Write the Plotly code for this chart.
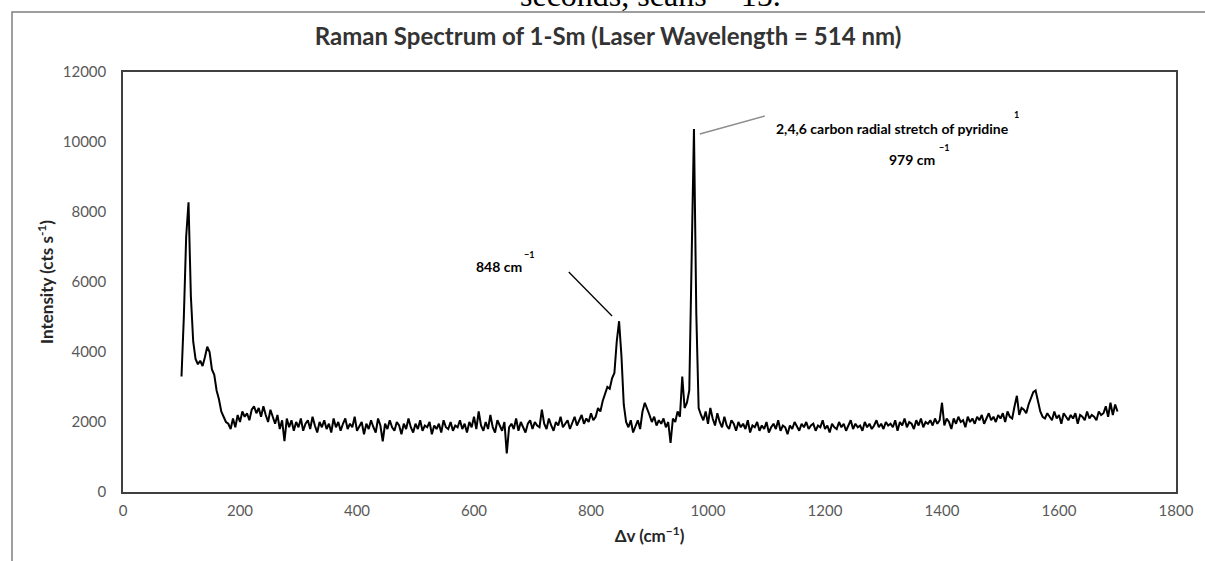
import plotly.graph_objects as go

# ---- data ----
raman_shift_start = 100
raman_shift_step = 4
intensity = [
    3300, 5000, 7300, 8280, 5600, 4300, 3800, 3650, 3750, 3600,
    3850, 4150, 4000, 3500, 3350, 2900, 2650, 2300, 2150, 2000,
    1950, 1800, 2100, 1850, 2200, 2000, 2300, 2150, 2250, 2050,
    2350, 2450, 2250, 2400, 2150, 2450, 2200, 2000, 2350, 2150,
    1950, 2200, 1800, 2050, 1450, 2100, 1850, 2050, 1750, 2000,
    1850, 2100, 1750, 1950, 2050, 1800, 2150, 1900, 1700, 2000,
    1850, 2050, 1800, 1950, 1700, 2100, 1850, 2000, 1750, 1950,
    2100, 1800, 1950, 1850, 2150, 1750, 1900, 2000, 1650, 1950,
    1800, 2050, 1850, 1700, 2100, 1900, 1450, 1950, 1800, 2050,
    1850, 1750, 2000, 1900, 1650, 1950, 1800, 2100, 1850, 1700,
    1950, 1800, 2050, 1750, 1900, 1850, 2000, 1650, 1900, 1800,
    1950, 1700, 2050, 1850, 1800, 2000, 1750, 1900, 1850, 2050,
    1800, 1950, 1700, 2000, 1850, 2150, 1800, 2300, 1900, 1750,
    2000, 1800, 2200, 1850, 1700, 2050, 1900, 1750, 2000, 1100,
    1850, 1950, 1800, 2100, 1750, 2000, 1850, 1700, 1950, 2050,
    1800, 2000, 1900, 1850, 2350, 1950, 1800, 2100, 1900, 1750,
    2000, 1900, 2150, 1850, 1950, 2050, 1800, 2000, 2150, 1900,
    2050, 2200, 1950, 2100, 2000, 2250, 2050, 2150, 2400, 2300,
    2600, 2800, 3000, 2950, 3250, 3400, 4300, 4880, 3900, 2500,
    2000, 1850, 2050, 1700, 1900, 2050, 1800, 2300, 2550, 2400,
    2200, 2000, 2150, 1900, 2050, 1950, 2100, 1850, 2000, 1400,
    2100, 2000, 2300, 2150, 3300, 2400, 2550, 2900, 6600, 10370,
    5100, 2400, 2200, 2050, 2300, 1950, 2400, 2100, 1900, 2250,
    2000, 1850, 2150, 1900, 1800, 2050, 1950, 1750, 2000, 1850,
    1950, 1800, 2050, 1700, 1900, 1850, 2000, 1750, 1900, 1800,
    2000, 1700, 1850, 1950, 1800, 2050, 1750, 1900, 1850, 1650,
    1900, 1800, 2000, 1850, 1750, 1950, 1850, 2000, 1800, 1900,
    1950, 1750, 1900, 1850, 2050, 1800, 1900, 1700, 1950, 1850,
    1800, 2000, 1850, 1950, 1750, 1900, 2050, 1800, 1950, 1850,
    1900, 1750, 2000, 1850, 1950, 1800, 1900, 2050, 1850, 1950,
    1800, 2000, 1900, 1950, 1850, 2050, 1750, 2000, 1900, 2100,
    1850, 2000, 1950, 1800, 2050, 1900, 2100, 1850, 2000, 1950,
    2050, 1900, 2100, 1950, 2050, 2550, 1900, 2100, 2000, 1800,
    2100, 1950, 2150, 2000, 2050, 1850, 2150, 2000, 2100, 1950,
    2150, 2050, 2200, 1950, 2100, 2250, 2050, 2150, 2000, 2200,
    2100, 2250, 2000, 2300, 2150, 2100, 2450, 2750, 2200, 2400,
    2350, 2250, 2500, 2700, 2850, 2900, 2600, 2300, 2150, 2100,
    2250, 2150, 2050, 2300, 2100, 2200, 1950, 2250, 2150, 2050,
    2200, 2100, 2250, 1950, 2200, 2150, 2050, 2300, 2100, 2200,
    2150, 2050, 2300, 2200, 2250, 2450, 2150, 2550, 2200, 2500, 2300,
]
raman_shift = [raman_shift_start + raman_shift_step * i for i in range(len(intensity))]

x_ticks = [0, 200, 400, 600, 800, 1000, 1200, 1400, 1600, 1800]
y_ticks = [0, 2000, 4000, 6000, 8000, 10000, 12000]

title_text = "Raman Spectrum of 1-Sm (Laser Wavelength = 514 nm)"
x_title = "Δv (cm<sup>−1</sup>)"
y_title = "Intensity (cts s<sup>-1</sup>)"
top_cut_text = "seconds, scans = 15."

FONT = "Lato, 'Open Sans', sans-serif"

fig = go.Figure()
fig.add_trace(go.Scatter(
    x=raman_shift, y=intensity, mode="lines",
    line=dict(color="#000000", width=2),
    showlegend=False, hoverinfo="skip",
))

# leader lines
fig.add_shape(type="line", xref="x", yref="y", x0=762, y0=6286, x1=836, y1=5029,
              line=dict(color="#000000", width=1.3))
fig.add_shape(type="line", xref="x", yref="y", x0=986, y0=10229, x1=1097, y1=10743,
              line=dict(color="#8c8c8c", width=1.5))

# outer chart frame
fig.add_shape(type="rect", xref="paper", yref="paper", x0=-0.1054, y0=-0.4, x1=1.2, y1=1.1429,
              line=dict(color="#7f7f7f", width=1.5), layer="below")

ann = [
    dict(text="848 cm", x=643, y=6430, size=14),
    dict(text="−1", x=694, y=6790, size=9),
    dict(text="2,4,6 carbon radial stretch of pyridine", x=1113, y=10400, size=14, xanchor="left"),
    dict(text="1", x=1527, y=10780, size=9),
    dict(text="979 cm", x=1349, y=9486, size=14),
    dict(text="−1", x=1404, y=9830, size=9),
]
for a in ann:
    fig.add_annotation(x=a["x"], y=a["y"], xref="x", yref="y", text=a["text"], showarrow=False,
                       xanchor=a.get("xanchor", "center"), yanchor="middle",
                       font=dict(family=FONT, size=a["size"], color="#000000", weight="bold"))

# cut-off text above the chart frame
fig.add_annotation(text=top_cut_text, xref="paper", yref="paper", x=(650 - 123) / 1053, y=(492 - 15) / 420,
                   xanchor="center", yanchor="bottom", showarrow=False,
                   font=dict(family="'Liberation Serif', 'Times New Roman', serif", size=32, color="#000000"))

fig.update_layout(
    width=1205, height=561,
    margin=dict(l=123, r=29, t=72, b=69),
    paper_bgcolor="white", plot_bgcolor="white",
    title=dict(text=title_text, x=608 / 1205, xref="container", xanchor="center", y=1 - 37 / 561, yanchor="middle",
               font=dict(family=FONT, size=24, color="#333333", weight="bold")),
    xaxis=dict(range=[0, 1800], tickvals=x_ticks, showgrid=False, zeroline=False,
               showline=True, linecolor="#404040", linewidth=1.5, mirror=True,
               ticks="", ticklabelstandoff=4, tickfont=dict(family=FONT, size=15, color="#595959"),
               title=dict(text=x_title, font=dict(family=FONT, size=17, color="#262626", weight="bold"),
                          standoff=12)),
    yaxis=dict(range=[0, 12000], tickvals=y_ticks, tickformat="d", showgrid=False, zeroline=False,
               showline=True, linecolor="#404040", linewidth=1.5, mirror=True,
               ticks="", ticklabelstandoff=12, tickfont=dict(family=FONT, size=15, color="#595959"),
               title=dict(text=y_title, font=dict(family=FONT, size=17, color="#262626", weight="bold"),
                          standoff=5)),
)

fig.write_html("out.html", config={"displayModeBar": False},
               post_script="document.body.style.margin='0';")
